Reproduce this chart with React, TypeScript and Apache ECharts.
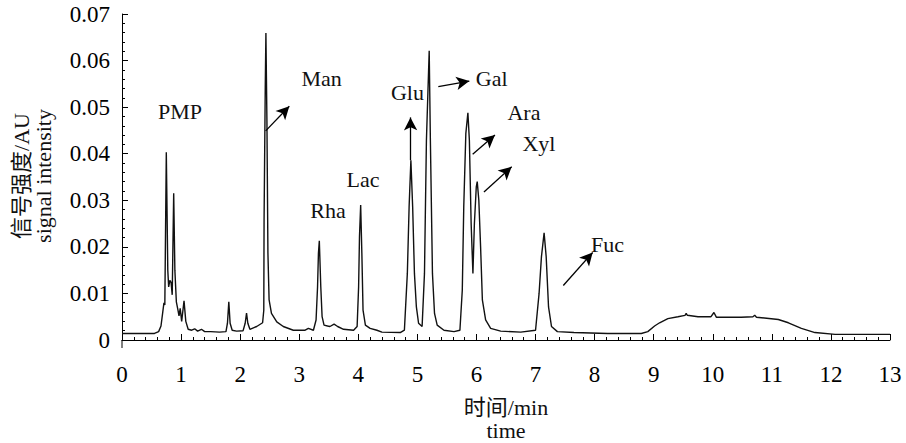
import React, { useEffect, useRef } from "react";
import * as echarts from "echarts";

// Chromatogram readings: retention time (min) and signal (AU)
const timeMin = [
  0.0, 0.55, 0.62, 0.66, 0.69, 0.71, 0.725, 0.75, 0.775, 0.79, 0.81, 0.83, 0.85, 0.875, 0.895, 0.92, 0.945, 0.965,
  0.985, 1.01, 1.05, 1.08, 1.12, 1.18, 1.23, 1.28, 1.345, 1.4, 1.5, 1.65, 1.76, 1.785, 1.808, 1.83, 1.865, 1.94,
  2.05, 2.085, 2.108, 2.13, 2.165, 2.28, 2.38, 2.4, 2.405, 2.425, 2.436, 2.453, 2.47, 2.49, 2.53, 2.62, 2.73, 2.9,
  3.1, 3.155, 3.24, 3.285, 3.31, 3.325, 3.34, 3.365, 3.387, 3.42, 3.48, 3.52, 3.59, 3.65, 3.75, 3.92, 3.98, 4.005,
  4.02, 4.04, 4.06, 4.08, 4.12, 4.2, 4.315, 4.4, 4.71, 4.78, 4.83, 4.86, 4.89, 4.92, 4.95, 4.983, 5.02, 5.08, 5.12,
  5.153, 5.2, 5.22, 5.255, 5.29, 5.335, 5.45, 5.62, 5.72, 5.76, 5.785, 5.82, 5.855, 5.88, 5.91, 5.94, 5.965, 5.997,
  6.013, 6.04, 6.07, 6.1, 6.155, 6.24, 6.41, 6.75, 7.0, 7.06, 7.1, 7.145, 7.18, 7.22, 7.27, 7.37, 7.65, 8.22, 8.79,
  8.9, 9.015, 9.1, 9.24, 9.41, 9.53, 9.55, 9.57, 9.75, 9.97, 10.02, 10.06, 10.48, 10.68, 10.71, 10.74, 11.11, 11.28,
  11.5, 11.73, 12.07, 13.0,
];
const signalAU = [
  0.0014, 0.0014, 0.0018, 0.003, 0.006, 0.008, 0.0075, 0.0403, 0.015, 0.0114, 0.0128, 0.0124, 0.0097, 0.0315, 0.015,
  0.0082, 0.0066, 0.0052, 0.0068, 0.004, 0.0084, 0.004, 0.0023, 0.0021, 0.0024, 0.0019, 0.0023, 0.0018, 0.0018,
  0.0017, 0.0018, 0.0036, 0.0082, 0.0036, 0.0021, 0.0019, 0.002, 0.0036, 0.0058, 0.0036, 0.0023, 0.0029, 0.0037,
  0.0064, 0.0258, 0.0544, 0.0659, 0.0472, 0.0187, 0.0086, 0.0057, 0.0039, 0.0029, 0.0021, 0.0021, 0.0025, 0.0021,
  0.0043, 0.0114, 0.0186, 0.0213, 0.0114, 0.005, 0.0032, 0.003, 0.0029, 0.0034, 0.0029, 0.0023, 0.0021, 0.0029,
  0.0114, 0.0222, 0.029, 0.0187, 0.0064, 0.0032, 0.0025, 0.0021, 0.0017, 0.0016, 0.0021, 0.0143, 0.0286, 0.0386,
  0.0286, 0.0143, 0.0071, 0.0036, 0.0029, 0.0143, 0.0429, 0.0621, 0.0429, 0.0143, 0.0057, 0.0032, 0.0021, 0.0018,
  0.0021, 0.0107, 0.0286, 0.0443, 0.0488, 0.0429, 0.025, 0.0143, 0.025, 0.0329, 0.034, 0.03, 0.02, 0.0086, 0.0043,
  0.0025, 0.0019, 0.0017, 0.0021, 0.01, 0.0179, 0.023, 0.0179, 0.0071, 0.0029, 0.0018, 0.0016, 0.0014, 0.0014,
  0.0018, 0.003, 0.0037, 0.0046, 0.005, 0.0053, 0.0057, 0.0053, 0.005, 0.005, 0.0059, 0.0049, 0.0049, 0.005, 0.0053,
  0.0049, 0.0044, 0.0037, 0.0025, 0.0016, 0.0012, 0.0012,
];

// Peak annotations (data coordinates)
const peakNames = ["PMP", "Man", "Rha", "Lac", "Glu", "Gal", "Ara", "Xyl", "Fuc"];
const labelTime = [0.982, 3.38, 3.487, 4.079, 4.832, 6.258, 6.804, 7.058, 8.218];
const labelSignal = [0.049, 0.0562, 0.0277, 0.0345, 0.0531, 0.0562, 0.0488, 0.0421, 0.0204];

// Arrows: start and tip (data coordinates)
const arrowFromTime = [2.432, 4.887, 5.354, 5.936, 6.127, 7.47];
const arrowFromSignal = [0.0449, 0.0386, 0.0544, 0.0399, 0.0318, 0.0117];
const arrowToTime = [2.832, 4.883, 5.879, 6.313, 6.596, 7.967];
const arrowToSignal = [0.0502, 0.0478, 0.0556, 0.044, 0.0372, 0.0188];

const xTickLabels = ["0", "1", "2", "3", "4", "5", "6", "7", "8", "9", "10", "11", "12", "13"];

const FONT = '"Liberation Serif", "Noto Sans CJK SC", serif';

export default function App() {
  const ref = useRef<HTMLDivElement>(null);

  useEffect(() => {
    if (!ref.current) return;
    const chart = echarts.init(ref.current, null, { renderer: "svg" });
    const lineData = timeMin.map((t, i) => [t, signalAU[i]]);
    const arrows = arrowFromTime.map((t, i) => [
      { coord: [t, arrowFromSignal[i]], symbol: "none" },
      { coord: [arrowToTime[i], arrowToSignal[i]], symbol: "arrow" },
    ]);

    chart.setOption({
      animation: false,
      grid: { left: 122, right: 16, top: 14, bottom: 103 },
      xAxis: {
        type: "value",
        min: 0,
        max: 13,
        interval: 1,
        offset: 8,
        axisLine: { show: true, lineStyle: { color: "#000", width: 1 } },
        axisTick: { show: true, inside: true, length: 6, lineStyle: { color: "#000" } },
        minorTick: { show: true, splitNumber: 5, length: 3, lineStyle: { color: "#000" } },
        splitLine: { show: false },
        axisLabel: {
          color: "#000",
          fontFamily: FONT,
          fontSize: 23,
          margin: 15,
          formatter: (v: number) => xTickLabels[Math.round(v)] ?? String(v),
        },
      },
      yAxis: {
        type: "value",
        min: 0,
        max: 0.07,
        interval: 0.01,
        axisLine: { show: true, lineStyle: { color: "#000", width: 1 } },
        axisTick: { show: true, inside: true, length: 6, lineStyle: { color: "#000" } },
        minorTick: { show: true, splitNumber: 5, length: 3, lineStyle: { color: "#000" } },
        splitLine: { show: false },
        axisLabel: {
          color: "#000",
          fontFamily: FONT,
          fontSize: 23,
          margin: 12,
          formatter: (v: number) => (Math.abs(v) < 1e-9 ? "0" : v.toFixed(2)),
        },
      },
      series: [
        {
          type: "line",
          data: lineData,
          showSymbol: false,
          symbol: "none",
          smooth: false,
          silent: true,
          lineStyle: { color: "#111", width: 1.4 },
          markLine: {
            silent: true,
            symbol: ["none", "arrow"],
            symbolSize: [10, 13],
            label: { show: false },
            lineStyle: { color: "#000", width: 1.3, type: "solid" },
            data: arrows,
          },
        },
      ],
    });

    const textEls = peakNames.map((name, i) => {
      const p = chart.convertToPixel({ gridIndex: 0 }, [labelTime[i], labelSignal[i]]) as number[];
      return {
        type: "text",
        x: p[0],
        y: p[1],
        silent: true,
        style: {
          text: name,
          fontFamily: FONT,
          fontSize: 22,
          fill: "#111",
          align: "center",
          verticalAlign: "middle",
        },
      };
    });
    const origin = chart.convertToPixel({ gridIndex: 0 }, [0, 0]) as number[];

    chart.setOption({
      graphic: [
        ...textEls,
        {
          type: "line",
          silent: true,
          shape: { x1: origin[0], y1: origin[1], x2: origin[0], y2: origin[1] + 8 },
          style: { stroke: "#000", lineWidth: 1 },
        },
        {
          type: "text",
          x: 32,
          y: 176,
          rotation: Math.PI / 2,
          silent: true,
          style: {
            text: "信号强度/AU\nsignal intensity",
            fontFamily: FONT,
            fontSize: 22,
            lineHeight: 22,
            fill: "#111",
            align: "center",
            verticalAlign: "middle",
          },
        },
        {
          type: "text",
          x: 506,
          y: 419,
          silent: true,
          style: {
            text: "时间/min\ntime",
            fontFamily: FONT,
            fontSize: 22,
            lineHeight: 23,
            fill: "#111",
            align: "center",
            verticalAlign: "middle",
          },
        },
      ],
    });

    return () => chart.dispose();
  }, []);

  return (
    <div
      ref={ref}
      style={{ position: "fixed", left: 0, top: 0, width: 906, height: 443, background: "#fff" }}
    />
  );
}
